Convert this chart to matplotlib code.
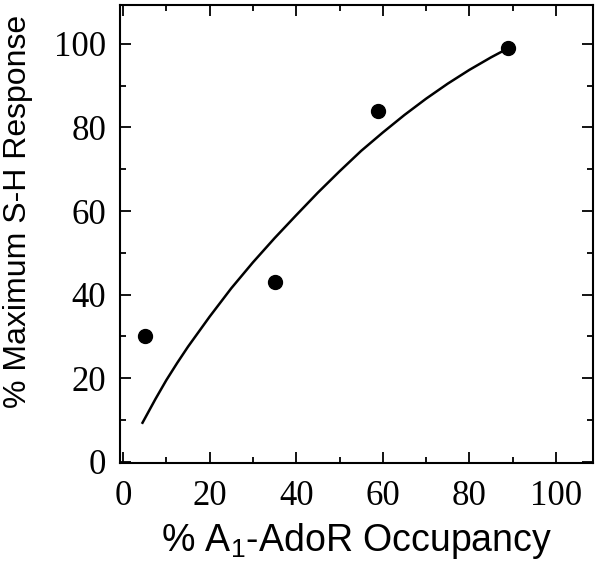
import matplotlib
matplotlib.use('Agg')
import matplotlib.pyplot as plt
from matplotlib.ticker import MultipleLocator

# measured points
occupancy = [5, 35, 59, 89]
response = [30, 43, 84, 99]

# fitted curve
curve_x = [4.5, 7.5, 10, 12.5, 15, 20, 25, 30, 35, 40, 45, 50, 55, 60, 65, 70, 75, 80, 85, 89]
curve_y = [9.3, 15, 19.5, 23.6, 27.5, 34.7, 41.5, 47.7, 53.5, 59, 64.4, 69.5, 74.4, 78.8,
           83, 86.9, 90.5, 93.8, 96.8, 99]

plt.rcParams['mathtext.fontset'] = 'custom'
plt.rcParams['mathtext.rm'] = 'Liberation Sans'

fig = plt.figure(figsize=(6, 5.7), dpi=100)
ax = fig.add_axes([0.2, 0.188, 0.788, 0.803])

ax.plot(curve_x, curve_y, color='black', lw=1.8, solid_joinstyle='round')
ax.plot(occupancy, response, 'o', color='black', markersize=10)

ax.set_xlim(-0.7, 108.5)
ax.set_ylim(-0.3, 109.3)
ax.xaxis.set_major_locator(MultipleLocator(20))
ax.xaxis.set_minor_locator(MultipleLocator(10))
ax.yaxis.set_major_locator(MultipleLocator(20))
ax.yaxis.set_minor_locator(MultipleLocator(10))

for s in ax.spines.values():
    s.set_linewidth(1.5)
ax.tick_params(which='both', direction='in', top=True, right=True, width=1.3)
ax.tick_params(which='major', length=8)
ax.tick_params(axis='x', which='major', pad=12)
ax.tick_params(axis='y', which='major', pad=10)
ax.tick_params(which='minor', length=4)
for lab in ax.get_xticklabels() + ax.get_yticklabels():
    lab.set_family('Liberation Serif')
    lab.set_fontsize(25)

ax.set_xlabel('% A$_1$-AdoR Occupancy', fontsize=27, family='Liberation Sans', labelpad=6)
ax.set_ylabel('% Maximum S-H Response', fontsize=23, family='Liberation Sans')
ax.yaxis.set_label_coords(-0.185, 0.55)

fig.savefig('out.png', dpi=100)
